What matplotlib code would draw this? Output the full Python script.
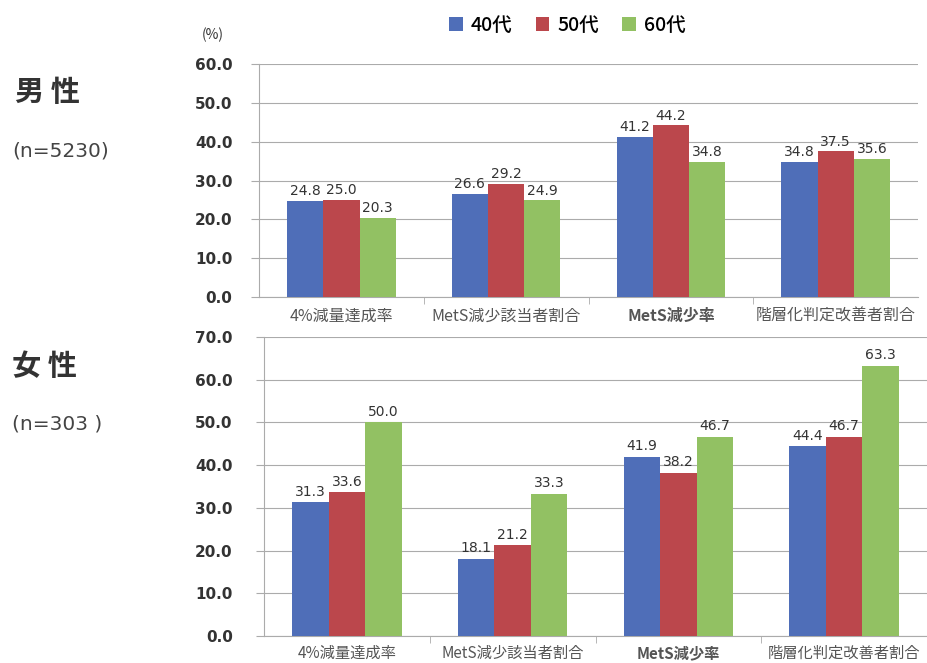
import matplotlib.pyplot as plt
import numpy as np

plt.rcParams['font.family'] = ['Noto Sans CJK JP', 'DejaVu Sans']

categories = ['4%減量達成率', 'MetS減少該当者割合', 'MetS減少率', '階層化判定改善者割合']
series = ['40代', '50代', '60代']
colors = ['#4f6eb8', '#bb474c', '#92c163']

male = [[24.8, 26.6, 41.2, 34.8],
        [25.0, 29.2, 44.2, 37.5],
        [20.3, 24.9, 34.8, 35.6]]
female = [[31.3, 18.1, 41.9, 44.4],
          [33.6, 21.2, 38.2, 46.7],
          [50.0, 33.3, 46.7, 63.3]]

fig = plt.figure(figsize=(9.27, 6.63), dpi=100)
ax1 = fig.add_axes([0.2794, 0.552, 0.7109, 0.3514])
ax2 = fig.add_axes([0.2848, 0.0407, 0.7152, 0.451])

x = np.arange(len(categories))
w = 0.22
grid_c = '#ababab'


def draw(ax, data, ymax, pad, lab_off, lab_size):
    for i, vals in enumerate(data):
        bars = ax.bar(x + (i - 1) * w, vals, w, color=colors[i], label=series[i], zorder=3)
        for b, v in zip(bars, vals):
            ax.text(b.get_x() + b.get_width() / 2, v + ymax * 0.012, f'{v:.1f}',
                    ha='center', va='bottom', fontsize=10, color='#333333',
                    family='DejaVu Sans')
    ax.set_xlim(-0.5, len(categories) - 0.5)
    ax.set_ylim(0, ymax)
    ax.set_yticks(np.arange(0, ymax + 1, 10))
    ax.set_yticklabels([f'{t:.1f}' for t in np.arange(0, ymax + 1, 10)],
                       fontsize=11, fontweight='bold', color='#333333', family='DejaVu Sans')
    ax.yaxis.grid(True, color=grid_c, lw=0.8, zorder=0)
    ax.set_xticks(x)
    ax.set_xticklabels([])
    ax.set_xticks(np.arange(0.5, len(categories) - 0.5, 1), minor=True)
    ax.tick_params(axis='x', which='major', length=0)
    ax.tick_params(axis='x', which='minor', length=5, color=grid_c, direction='out')
    ax.tick_params(axis='y', length=6, color=grid_c, pad=pad)
    for s in ['top', 'right']:
        ax.spines[s].set_visible(False)
    for s in ['left', 'bottom']:
        ax.spines[s].set_color(grid_c)
        ax.spines[s].set_linewidth(0.8)
    for xi, c in zip(x, categories):
        weight = 'bold' if c == 'MetS減少率' else 'normal'
        ax.annotate(c, (xi, 0), xytext=(0, -lab_off), textcoords='offset points',
                    ha='center', va='top', fontsize=lab_size, color='#555555',
                    fontweight=weight, annotation_clip=False)


draw(ax1, male, 60, 13, 8, 11.5)
draw(ax2, female, 70, 16.5, 6.5, 11)

handles, labels = ax1.get_legend_handles_labels()
fig.legend(handles, labels, loc='center', bbox_to_anchor=(0.612, 0.962), ncol=3,
           frameon=False, handlelength=0.7, handleheight=0.7,
           handletextpad=0.4, columnspacing=1.2, prop={'size': 14, 'weight': 'medium'})

fig.text(0.23, 0.947, '(%)', ha='center', va='center', fontsize=10, color='#333333')
fig.text(0.016, 0.861, '男 性', ha='left', va='center', fontsize=21, fontweight='bold', color='#333333')
fig.text(0.013, 0.773, '(n=5230)', ha='left', va='center', fontsize=14.5, color='#444444',
         family='DejaVu Sans')
fig.text(0.013, 0.448, '女 性', ha='left', va='center', fontsize=21, fontweight='bold', color='#333333')
fig.text(0.013, 0.360, '(n=303 )', ha='left', va='center', fontsize=14.5, color='#444444',
         family='DejaVu Sans')

fig.savefig('out.png', dpi=100, facecolor='white')
